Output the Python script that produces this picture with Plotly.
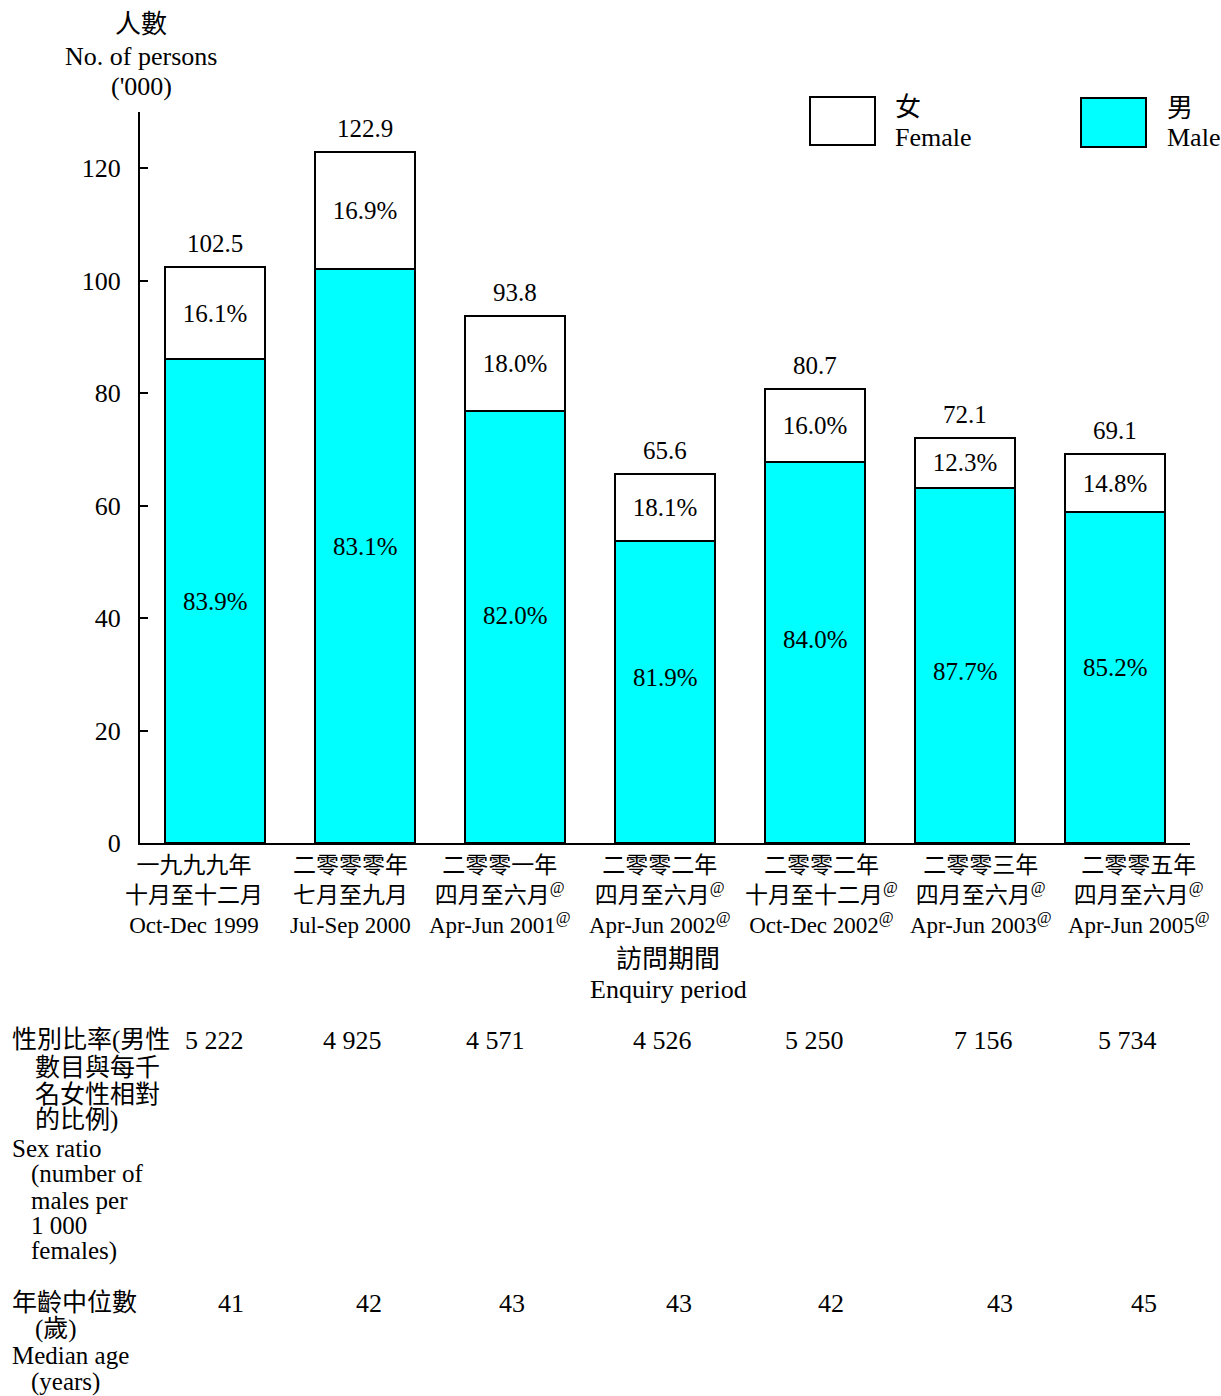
import plotly.graph_objects as go

# ---------------- data ----------------
periods_zh1 = ["一九九九年", "二零零零年", "二零零一年", "二零零二年", "二零零二年", "二零零三年", "二零零五年"]
periods_zh2 = ["十月至十二月", "七月至九月", "四月至六月", "四月至六月", "十月至十二月", "四月至六月", "四月至六月"]
periods_en = ["Oct-Dec 1999", "Jul-Sep 2000", "Apr-Jun 2001", "Apr-Jun 2002", "Oct-Dec 2002", "Apr-Jun 2003", "Apr-Jun 2005"]
footnote_mark = [False, False, True, True, True, True, True]
totals = [102.5, 122.9, 93.8, 65.6, 80.7, 72.1, 69.1]
male = [86.0, 102.1, 76.9, 53.7, 67.8, 63.2, 58.9]
female = [16.5, 20.8, 16.9, 11.9, 12.9, 8.9, 10.2]
male_pct = ["83.9%", "83.1%", "82.0%", "81.9%", "84.0%", "87.7%", "85.2%"]
female_pct = ["16.1%", "16.9%", "18.0%", "18.1%", "16.0%", "12.3%", "14.8%"]
sex_ratio = ["5 222", "4 925", "4 571", "4 526", "5 250", "7 156", "5 734"]
median_age = ["41", "42", "43", "43", "42", "43", "45"]
y_ticks = [0, 20, 40, 60, 80, 100, 120]

# ---------------- layout helpers ----------------
W, H = 1221, 1396
L, R, T, B = 140, 1190, 112, 843
FONT = "Liberation Serif, Times New Roman, Noto Sans CJK TC, serif"
CYAN = "#00FFFF"
label_xshift = [-21, -15, -15, -5, 6, 16, 24]
table_xshift = [31, 19, 12, 29, 31, 50, 44]
male_label_yshift = [0, 9, 11, 15, 13, -6, 10]


def px(x):
    return (x - L) / (R - L)


def py(y):
    return (B - y) / (B - T)


fig = go.Figure()
fig.add_trace(go.Bar(
    x=periods_en, y=male, name="男 Male",
    marker=dict(color=CYAN, line=dict(color="black", width=2)),
))
fig.add_trace(go.Bar(
    x=periods_en, y=female, name="女 Female",
    marker=dict(color="white", line=dict(color="black", width=2)),
    text=female_pct, textposition="inside", insidetextanchor="middle", textangle=0,
    textfont=dict(family=FONT, size=25, color="black"),
))

ann = []
# male share labels
for i, cat in enumerate(periods_en):
    ann.append(dict(x=cat, y=male[i] / 2, xref="x", yref="y", text=male_pct[i], showarrow=False,
                    yanchor="middle", yshift=male_label_yshift[i],
                    font=dict(family=FONT, size=25, color="black")))

# totals above bars
for cat, tot in zip(periods_en, totals):
    ann.append(dict(x=cat, y=tot, xref="x", yref="y", text=f"{tot:.1f}", showarrow=False,
                    yanchor="bottom", yshift=8, font=dict(family=FONT, size=25, color="black")))

# category labels
for i, cat in enumerate(periods_en):
    sup = "<sup>@</sup>" if footnote_mark[i] else ""
    txt = f"{periods_zh1[i]}<br>{periods_zh2[i]}{sup}<br>{cat}{sup}"
    ann.append(dict(x=cat, y=0, xref="x", yref="paper", text=txt, showarrow=False,
                    yanchor="top", yshift=-8, xshift=label_xshift[i], align="center",
                    font=dict(family=FONT, size=23, color="black")))


def txt_px(x, y, s, size=26, anchor="center"):
    ann.append(dict(x=px(x), y=py(y), xref="paper", yref="paper", text=s, showarrow=False,
                    xanchor=anchor, yanchor="middle", font=dict(family=FONT, size=size, color="black")))


# axis titles
txt_px(141, 25, "人數")
txt_px(141, 57, "No. of persons")
txt_px(141, 86, "('000)")
txt_px(668, 959, "訪問期間")
txt_px(668, 989, "Enquiry period")

# legend
txt_px(893, 107, "女", anchor="left")
txt_px(893, 137, "Female", anchor="left")
txt_px(1165, 108, "男", anchor="left")
txt_px(1165, 138, "Male", anchor="left")

# table row labels
row1 = [(10, 1040, "性別比率(男性"), (33, 1067, "數目與每千"), (33, 1094, "名女性相對"),
        (33, 1120, "的比例)"), (10, 1148, "Sex ratio"), (29, 1174, "(number of"),
        (29, 1200, "males per"), (29, 1225, "1 000"), (29, 1251, "females)")]
row2 = [(10, 1302, "年齡中位數"), (33, 1329, "(歲)"), (10, 1355, "Median age"), (29, 1382, "(years)")]
for x, y, s in row1 + row2:
    txt_px(x, y, s, size=25, anchor="left")

# table values
for i, cat in enumerate(periods_en):
    for val, yy in ((sex_ratio[i], 1040), (median_age[i], 1303)):
        ann.append(dict(x=cat, y=py(yy), xref="x", yref="paper", text=val, showarrow=False,
                        xanchor="right", yanchor="middle", xshift=table_xshift[i],
                        font=dict(family=FONT, size=26, color="black")))

shapes = [
    dict(type="rect", xref="paper", yref="paper", x0=px(810), x1=px(875), y0=py(145), y1=py(97),
         fillcolor="white", line=dict(color="black", width=2)),
    dict(type="rect", xref="paper", yref="paper", x0=px(1081), x1=px(1146), y0=py(147), y1=py(98),
         fillcolor=CYAN, line=dict(color="black", width=2)),
]

fig.update_layout(
    width=W, height=H,
    margin=dict(l=L, r=W - R, t=T, b=H - B, pad=0),
    paper_bgcolor="white", plot_bgcolor="white",
    barmode="stack", bargap=1/3,
    showlegend=False,
    font=dict(family=FONT, size=26, color="black"),
    annotations=ann, shapes=shapes,
)
fig.update_xaxes(showticklabels=False, ticks="", showline=True, linecolor="black", linewidth=2,
                 showgrid=False, zeroline=False, range=[-0.5, 6.5])
fig.update_yaxes(range=[0, 130], tickvals=y_ticks, ticks="inside", ticklen=8, tickwidth=2,
                 tickcolor="black", showline=True, linecolor="black", linewidth=2,
                 showgrid=False, zeroline=False, ticklabelstandoff=12,
                 tickfont=dict(family=FONT, size=26, color="black"))

fig.write_html("out.html")
